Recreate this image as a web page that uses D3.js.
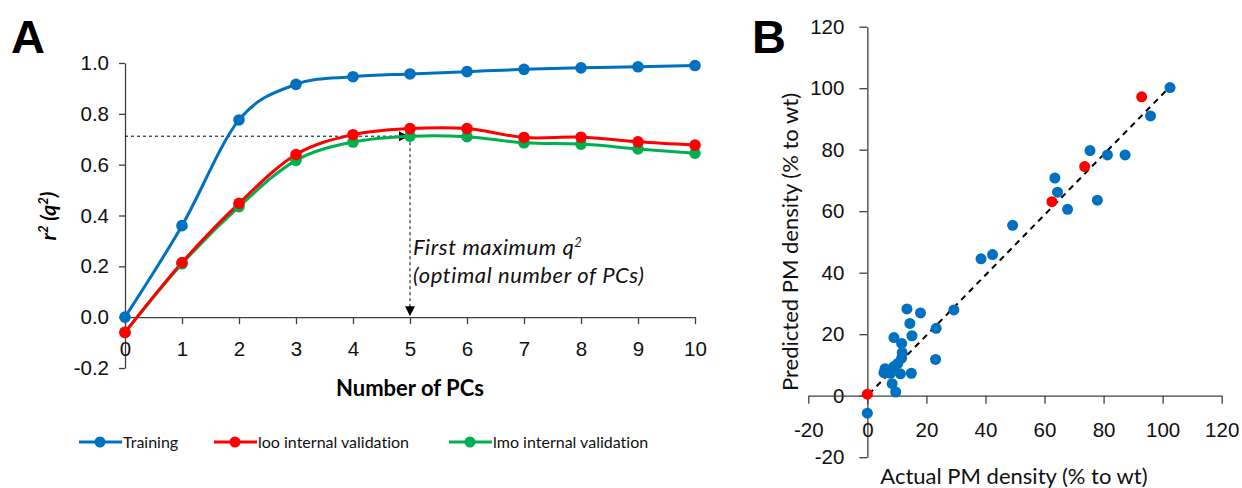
<!DOCTYPE html>
<html>
<head>
<meta charset="utf-8">
<script src="https://cdn.jsdelivr.net/npm/d3@7"></script>
<style>
  body { margin: 0; background: #fff; }
  svg { font-family: Lato, "Open Sans", sans-serif; font-variant-ligatures: none; }
</style>
</head>
<body>
<div id="chart"></div>
<script>
// Panel A data: r2 / q2 vs number of PCs
const pcs = [0, 1, 2, 3, 4, 5, 6, 7, 8, 9, 10];
const training = [0.0, 0.36, 0.776, 0.916, 0.946, 0.957, 0.966, 0.975, 0.981, 0.985, 0.990];
const looQ2 = [-0.06, 0.215, 0.448, 0.640, 0.718, 0.742, 0.742, 0.707, 0.708, 0.690, 0.677];
const lmoQ2 = [-0.06, 0.210, 0.435, 0.617, 0.689, 0.712, 0.710, 0.686, 0.681, 0.662, 0.645];
const yTicksA = [-0.2, 0, 0.2, 0.4, 0.6, 0.8, 1.0];
const optimalPC = 5;
const optimalQ2 = 0.712;
const seriesNames = ["Training", "loo internal validation", "lmo internal validation"];
const seriesColors = ["#0070C0", "#FF0000", "#00B050"];

// Panel B data: actual vs predicted PM density
const trainActual = [102.5, 95.9, 75.4, 81.3, 87.3, 63.5, 64.4, 67.8, 77.9, 49.2, 38.5, 42.4,
  29.3, 23.3, 23.1, 13.4, 18.0, 14.4, 15.1, 9.0, 11.6, 11.8, 11.6, 10.3, 6.0, 5.6, 9.0,
  14.9, 11.2, 7.8, 8.4, 9.6, 0.0];
const trainPred = [100.2, 91.0, 79.7, 78.3, 78.3, 70.8, 66.2, 60.6, 63.6, 55.4, 44.5, 45.9,
  27.9, 21.9, 11.8, 28.2, 26.9, 23.5, 19.5, 18.9, 17.0, 14.0, 12.2, 10.5, 8.8, 7.5, 9.5,
  7.3, 7.1, 7.3, 3.9, 1.2, -5.7];
const testActual = [0.0, 62.5, 73.6, 92.9];
const testPred = [0.5, 63.1, 74.5, 97.2];
const fitX = [0.5, 102];
const fitY = [0.5, 100];
const ticksB = [-20, 0, 20, 40, 60, 80, 100, 120];

const W = 1242, H = 488;
const axisColor = "#404040";

const svg = d3.select("#chart")
  .append("svg")
  .attr("width", W)
  .attr("height", H);

svg.append("rect").attr("width", W).attr("height", H).attr("fill", "#fff");

// arrow heads
const defs = svg.append("defs");
defs.append("marker")
  .attr("id", "arrow")
  .attr("viewBox", "0 0 10 10")
  .attr("refX", 10).attr("refY", 5)
  .attr("markerWidth", 10).attr("markerHeight", 10)
  .attr("markerUnits", "userSpaceOnUse")
  .attr("orient", "auto")
  .append("path")
  .attr("d", "M0,0 L10,5 L0,10 Z")
  .attr("fill", "#000");

function styleAxis(g) {
  g.select(".domain").attr("stroke", axisColor).attr("stroke-width", 1.3);
  g.selectAll(".tick line").attr("stroke", axisColor).attr("stroke-width", 1.3);
  g.selectAll(".tick text").attr("fill", "#111").attr("font-size", "20.5px");
}

// ---------- Panel A ----------
const xA = d3.scaleLinear().domain([0, 10]).range([125, 695]);
const yA = d3.scaleLinear().domain([-0.2, 1.0]).range([368, 63]);

svg.append("text")
  .attr("x", 11).attr("y", 53)
  .attr("font-family", "Liberation Sans, Arial, sans-serif")
  .attr("font-weight", "bold")
  .attr("font-size", "47px")
  .text("A");

svg.append("g")
  .attr("transform", `translate(${xA(0)},0)`)
  .call(d3.axisLeft(yA).tickValues(yTicksA).tickSize(6).tickSizeOuter(0).tickPadding(10)
    .tickFormat(d => d.toFixed(1)))
  .call(styleAxis);

svg.append("g")
  .attr("transform", `translate(0,${yA(0)})`)
  .call(d3.axisBottom(xA).tickValues(pcs).tickSize(7).tickSizeOuter(0).tickPadding(17))
  .call(styleAxis);

// axis titles
svg.append("text")
  .attr("x", xA(5)).attr("y", 396)
  .attr("text-anchor", "middle")
  .attr("font-weight", "bold")
  .attr("font-size", "22px")
  .text("Number of PCs");

const yTitle = svg.append("text")
  .attr("transform", `translate(56,216) rotate(-90)`)
  .attr("text-anchor", "middle")
  .attr("font-weight", "bold")
  .attr("font-style", "italic")
  .attr("font-size", "21px");
yTitle.append("tspan").text("r");
yTitle.append("tspan").attr("font-size", "13px").attr("dy", -8).text("2");
yTitle.append("tspan").attr("dy", 8).text(" (q");
yTitle.append("tspan").attr("font-size", "13px").attr("dy", -8).text("2");
yTitle.append("tspan").attr("dy", 8).text(")");

// dashed guides to the first maximum
svg.append("line")
  .attr("x1", xA(0)).attr("x2", xA(optimalPC) - 1)
  .attr("y1", yA(optimalQ2)).attr("y2", yA(optimalQ2))
  .attr("stroke", "#000").attr("stroke-width", 1)
  .attr("stroke-dasharray", "3,3")
  .attr("marker-end", "url(#arrow)");

svg.append("line")
  .attr("x1", xA(optimalPC)).attr("x2", xA(optimalPC))
  .attr("y1", yA(optimalQ2)).attr("y2", yA(0) - 1)
  .attr("stroke", "#000").attr("stroke-width", 1)
  .attr("stroke-dasharray", "3,3")
  .attr("marker-end", "url(#arrow)");

const note = svg.append("text")
  .attr("x", 413).attr("y", 255)
  .attr("font-style", "italic")
  .attr("font-size", "22px")
  .attr("letter-spacing", "0.6px")
  .attr("fill", "#111");
note.append("tspan").text("First maximum q");
note.append("tspan").attr("font-size", "13px").attr("dy", -8).text("2");
svg.append("text")
  .attr("x", 413).attr("y", 283)
  .attr("font-style", "italic")
  .attr("font-size", "22px")
  .attr("letter-spacing", "0.6px")
  .attr("fill", "#111")
  .text("(optimal number of PCs)");

// series
const seriesA = [training, looQ2, lmoQ2];
const lineA = d3.line()
  .x((d, i) => xA(pcs[i]))
  .y(d => yA(d))
  .curve(d3.curveCardinal.tension(0));

// draw lmo, loo, then training
[2, 1, 0].forEach(function (k) {
  svg.append("path")
    .datum(seriesA[k])
    .attr("d", lineA)
    .attr("fill", "none")
    .attr("stroke", seriesColors[k])
    .attr("stroke-width", 3);
});
[2, 1, 0].forEach(function (k) {
  svg.selectAll(null)
    .data(seriesA[k])
    .join("circle")
    .attr("cx", (d, i) => xA(pcs[i]))
    .attr("cy", d => yA(d))
    .attr("r", 5.8)
    .attr("fill", seriesColors[k]);
});

// legend
const legendX = [79, 214, 449];
seriesNames.forEach(function (name, k) {
  const g = svg.append("g").attr("transform", `translate(${legendX[k]},442)`);
  g.append("line").attr("x1", 0).attr("x2", 43).attr("y1", 0).attr("y2", 0)
    .attr("stroke", seriesColors[k]).attr("stroke-width", 3);
  g.append("circle").attr("cx", 21).attr("cy", 0).attr("r", 5.5).attr("fill", seriesColors[k]);
  g.append("text").attr("x", 44).attr("y", 6)
    .attr("font-size", "16px").attr("fill", "#111")
    .text(name);
});

// ---------- Panel B ----------
const xB = d3.scaleLinear().domain([-20, 120]).range([808.3, 1221.7]);
const yB = d3.scaleLinear().domain([-20, 120]).range([457.2, 26.7]);

svg.append("text")
  .attr("x", 752).attr("y", 53)
  .attr("font-family", "Liberation Sans, Arial, sans-serif")
  .attr("font-weight", "bold")
  .attr("font-size", "47px")
  .text("B");

svg.append("g")
  .attr("transform", `translate(${xB(0)},0)`)
  .call(d3.axisLeft(yB).tickValues(ticksB).tickSize(8).tickSizeOuter(0).tickPadding(15)
    .tickFormat(d => String(d)))
  .call(styleAxis);

svg.append("g")
  .attr("transform", `translate(0,${yB(0)})`)
  .call(d3.axisBottom(xB).tickValues(ticksB).tickSize(8).tickSizeOuter(0).tickPadding(19)
    .tickFormat(d => String(d)))
  .call(styleAxis);

svg.append("text")
  .attr("x", 1014).attr("y", 484)
  .attr("text-anchor", "middle")
  .attr("font-size", "22px")
  .attr("fill", "#111")
  .text("Actual PM density (% to wt)");

svg.append("text")
  .attr("transform", `translate(798,${yB(50)}) rotate(-90)`)
  .attr("text-anchor", "middle")
  .attr("font-size", "22px")
  .attr("fill", "#111")
  .text("Predicted PM density (% to wt)");

// fitted line
svg.append("line")
  .attr("x1", xB(fitX[0])).attr("y1", yB(fitY[0]))
  .attr("x2", xB(fitX[1])).attr("y2", yB(fitY[1]))
  .attr("stroke", "#000").attr("stroke-width", 2)
  .attr("stroke-dasharray", "6,5");

svg.selectAll(null)
  .data(trainActual)
  .join("circle")
  .attr("cx", d => xB(d))
  .attr("cy", (d, i) => yB(trainPred[i]))
  .attr("r", 5.5)
  .attr("fill", "#0070C0");

svg.selectAll(null)
  .data(testActual)
  .join("circle")
  .attr("cx", d => xB(d))
  .attr("cy", (d, i) => yB(testPred[i]))
  .attr("r", 5.5)
  .attr("fill", "#FF0000");
</script>
</body>
</html>
